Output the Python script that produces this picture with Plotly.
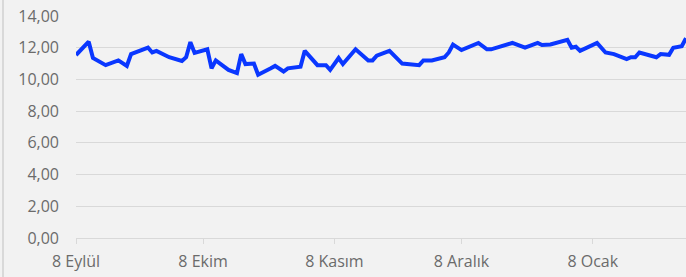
import plotly.graph_objects as go

dates = [
    "2019-09-08", "2019-09-11", "2019-09-12", "2019-09-15", "2019-09-18", "2019-09-20",
    "2019-09-21", "2019-09-25", "2019-09-26", "2019-09-27", "2019-09-30", "2019-10-03",
    "2019-10-04", "2019-10-05", "2019-10-06", "2019-10-09", "2019-10-10", "2019-10-11",
    "2019-10-14", "2019-10-16", "2019-10-17", "2019-10-18", "2019-10-20", "2019-10-21",
    "2019-10-24", "2019-10-25", "2019-10-27", "2019-10-28", "2019-10-31", "2019-11-01",
    "2019-11-04", "2019-11-06", "2019-11-07", "2019-11-09", "2019-11-10", "2019-11-13",
    "2019-11-16", "2019-11-17", "2019-11-18", "2019-11-21", "2019-11-24", "2019-11-28",
    "2019-11-29", "2019-12-01", "2019-12-04", "2019-12-05", "2019-12-06", "2019-12-08",
    "2019-12-12", "2019-12-14", "2019-12-15", "2019-12-20", "2019-12-23", "2019-12-26",
    "2019-12-27", "2019-12-29", "2020-01-02", "2020-01-03", "2020-01-04", "2020-01-05",
    "2020-01-09", "2020-01-11", "2020-01-13", "2020-01-16", "2020-01-17", "2020-01-18",
    "2020-01-19", "2020-01-23", "2020-01-24", "2020-01-26", "2020-01-27", "2020-01-29",
    "2020-01-30",
]
values = [
    11.54, 12.38, 11.35, 10.90, 11.20, 10.85,
    11.60, 12.00, 11.70, 11.80, 11.40, 11.16,
    11.40, 12.35, 11.67, 11.90, 10.70, 11.20,
    10.60, 10.40, 11.60, 10.97, 11.00, 10.30,
    10.70, 10.85, 10.50, 10.70, 10.80, 11.80,
    10.90, 10.90, 10.60, 11.35, 10.97, 11.90,
    11.20, 11.20, 11.50, 11.80, 11.00, 10.90,
    11.20, 11.20, 11.40, 11.70, 12.20, 11.85,
    12.30, 11.90, 11.90, 12.30, 12.00, 12.30,
    12.17, 12.20, 12.50, 12.00, 12.06, 11.80,
    12.30, 11.70, 11.60, 11.28, 11.40, 11.40,
    11.70, 11.40, 11.60, 11.55, 12.00, 12.10,
    12.60,
]

tick_dates = ["2019-09-08", "2019-10-08", "2019-11-08", "2019-12-08", "2020-01-08"]
tick_labels = ["8 Eylül", "8 Ekim", "8 Kasım", "8 Aralık", "8 Ocak"]
y_ticks = [0, 2, 4, 6, 8, 10, 12, 14]
y_labels = ["0,00", "2,00", "4,00", "6,00", "8,00", "10,00", "12,00", "14,00"]

fig = go.Figure()
fig.add_trace(go.Scatter(
    x=dates, y=values, mode="lines",
    line=dict(color="#0a37ff", width=4),
    hoverinfo="skip",
))

font = dict(family="Open Sans", size=16, color="#6b6b6b")
fig.update_layout(
    width=686, height=277,
    margin=dict(l=76, r=0, t=16, b=39),
    paper_bgcolor="#f2f2f2", plot_bgcolor="#f2f2f2",
    showlegend=False,
    font=font,
    xaxis=dict(
        range=["2019-09-08", "2020-01-30"],
        tickvals=tick_dates, ticktext=tick_labels,
        showgrid=False, zeroline=False,
        showline=True, linecolor="#d9d9d9", linewidth=1,
        ticks="outside", ticklen=5, tickcolor="#d9d9d9",
        ticklabelstandoff=4,
        tickfont=font,
    ),
    yaxis=dict(
        range=[0, 14],
        tickvals=y_ticks, ticktext=y_labels,
        showgrid=True, gridcolor="#d9d9d9", gridwidth=1,
        zeroline=False, showline=False,
        ticklabelstandoff=16,
        tickfont=font,
    ),
    shapes=[dict(type="line", xref="paper", yref="paper",
                 x0=-73 / 610, x1=-73 / 610, y0=-39 / 222, y1=1 + 16 / 222,
                 line=dict(color="#d9d9d9", width=2))],
)

fig.write_html("out.html", config={"displayModeBar": False},
               post_script="document.body.style.margin='0';")
